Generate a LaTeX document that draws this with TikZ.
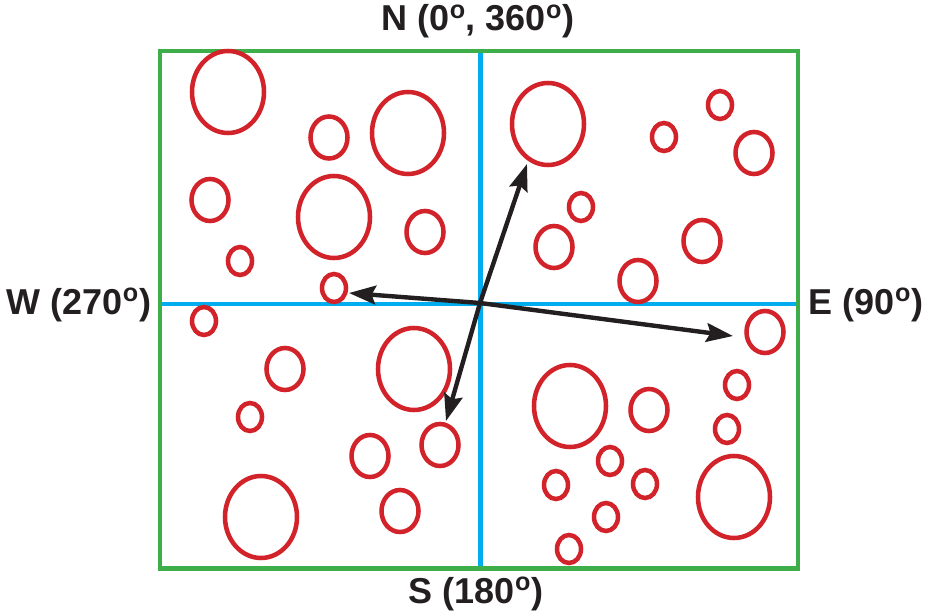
\documentclass[tikz,border=0pt]{standalone}
\usepackage{fontspec}
\setmainfont{Liberation Sans}
\usetikzlibrary{arrows.meta}
\definecolor{CompassGreen}{HTML}{3DAE49}
\definecolor{CompassBlue}{HTML}{00AEEF}
\definecolor{CompassRed}{HTML}{D2232A}
\definecolor{CompassBlack}{HTML}{231F20}

\begin{document}
\begin{tikzpicture}[
  x=0.75pt,y=-0.75pt,
  marco/.style={draw=CompassGreen,line width=3.3pt},
  eje/.style={draw=CompassBlue,line width=3.3pt},
  anillo/.style={draw=CompassRed,line width=3.4pt},
  rotulo/.style={font=\fontsize{27}{30}\selectfont\bfseries,text=CompassBlack,inner sep=0pt,anchor=base},
  flecha/.style={-{Stealth[length=20pt,width=14pt,inset=3pt]},line width=3.3pt,draw=CompassBlack}
]
\useasboundingbox (0,0) rectangle (925,613);
\draw[eje] (480.5,51) -- (480.5,568.5);
\draw[eje] (160,304) -- (798,304);
\draw[marco] (160,51) rectangle (798,568.5);
\foreach \x/\y in {228/92,408/133,334/217,548/124,414/369,261/517,570/406,734/497}
  \draw[anillo] (\x,\y) ellipse [x radius=36,y radius=41];
\foreach \x/\y in {329/137.5,210/200,425/232,754/153,554/247,702/241,638/281,285/369,440/445,370/456,400/511,765/332,649/410}
  \draw[anillo] (\x,\y) ellipse [x radius=18.5,y radius=21];
\foreach \x/\y in {240/261,334/288,720/105,664/137,581/207,204/321,250/417,737/385,727/429,610/461,556/485,645/484,606/517,569/549}
  \draw[anillo] (\x,\y) ellipse [x radius=12,y radius=14];
\coordinate (origen) at (480,303);
\coordinate (puntaN) at (527,164);
\coordinate (puntaW) at (349,293);
\coordinate (puntaE) at (733,336);
\coordinate (puntaS) at (446,421);
\foreach \p in {puntaN,puntaW,puntaE,puntaS}
  \draw[flecha] (origen) -- (\p);
\node[rotulo] (norte) at (478,31) {N (0\textsuperscript{o}, 360\textsuperscript{o})};
\node[rotulo] (oeste) at (79,314) {W (270\textsuperscript{o})};
\node[rotulo] (este) at (866,314) {E (90\textsuperscript{o})};
\node[rotulo] (sur) at (476,603) {S (180\textsuperscript{o})};
\end{tikzpicture}
\end{document}
